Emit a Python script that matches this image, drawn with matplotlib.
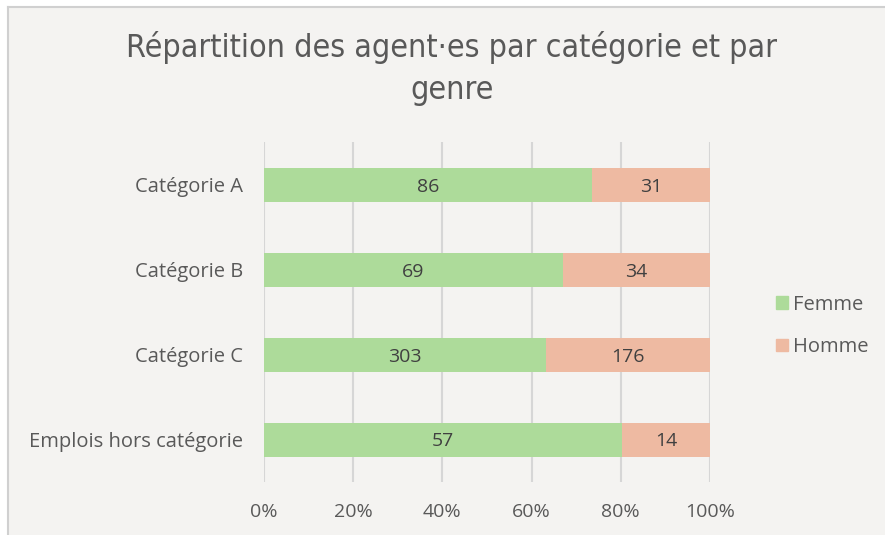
import matplotlib
matplotlib.use("Agg")
import matplotlib.pyplot as plt
from matplotlib.patches import Rectangle
from matplotlib.lines import Line2D
import numpy as np

categories = ["Catégorie A", "Catégorie B", "Catégorie C", "Emplois hors catégorie"]
femme = [86, 69, 303, 57]
homme = [31, 34, 176, 14]
series_names = ["Femme", "Homme"]
xtick_labels = ["0%", "20%", "40%", "60%", "80%", "100%"]

W, H = 885, 535
fig = plt.figure(figsize=(W / 100, H / 100), dpi=100)
fig.patch.set_facecolor("white")
bg = "#F4F3F1"
fig.patches.append(Rectangle((8 / W, 0), 1 - 8 / W, 1 - 7 / H, transform=fig.transFigure,
                             facecolor=bg, edgecolor="none", zorder=-10))
fig.lines.append(Line2D([8 / W, 8 / W], [0, 1 - 7 / H], transform=fig.transFigure, color="#D0D0D0", lw=1.5))
fig.lines.append(Line2D([8 / W, 1], [1 - 7 / H, 1 - 7 / H], transform=fig.transFigure, color="#D0D0D0", lw=1.5))

ax = fig.add_axes([264 / W, 1 - 482 / H, (710 - 264) / W, (482 - 142) / H])
ax.set_facecolor("none")

f = np.array(femme, float)
h = np.array(homme, float)
tot = f + h
fp = f / tot
hp = h / tot
y = np.arange(len(categories))

green = "#ADDB9A"
salmon = "#EEBAA2"
ax.barh(y, fp, height=0.4, color=green, zorder=3, label=series_names[0])
ax.barh(y, hp, left=fp, height=0.4, color=salmon, zorder=3, label=series_names[1])

fs = 14
for i in range(len(categories)):
    ax.text(fp[i] / 2, y[i], str(femme[i]), ha="center", va="center_baseline", fontsize=fs,
            color="#404040", zorder=4, family="Open Sans")
    ax.text(fp[i] + hp[i] / 2, y[i], str(homme[i]), ha="center", va="center_baseline", fontsize=fs,
            color="#404040", zorder=4, family="Open Sans")

ax.set_ylim(len(categories) - 0.5, -0.5)
ax.set_xlim(0, 1)
ax.set_xticks(np.linspace(0, 1, 6))
ax.set_xticklabels(xtick_labels, family="Open Sans", fontsize=fs, color="#595959")
ax.set_yticks(y)
ax.set_yticklabels(categories, family="Open Sans", fontsize=14.5, color="#595959")
ax.tick_params(axis="both", length=0)
ax.tick_params(axis="x", pad=15)
ax.tick_params(axis="y", pad=15)
for s in ax.spines.values():
    s.set_visible(False)
ax.grid(axis="x", color="#D6D6D6", lw=1.5, zorder=0)
ax.set_axisbelow(True)

tprops = dict(ha="center", va="center", fontsize=23, color="#595959", family="DejaVu Sans",
              fontstretch="condensed")
fig.text(452 / W, 1 - 48 / H, "Répartition des agent·es par catégorie et par", **tprops)
fig.text(452 / W, 1 - 90 / H, "genre", **tprops)

leg = fig.legend(handles=[Rectangle((0, 0), 1, 1, color=green), Rectangle((0, 0), 1, 1, color=salmon)],
                 labels=series_names, loc="center left", bbox_to_anchor=(758 / W, 1 - 326 / H),
                 frameon=False, prop={"family": "Open Sans", "size": 14.5}, handlelength=0.6,
                 handleheight=0.6, handletextpad=0.25, labelspacing=1.1, labelcolor="#595959")

fig.savefig("out.png", dpi=100, facecolor="white")
